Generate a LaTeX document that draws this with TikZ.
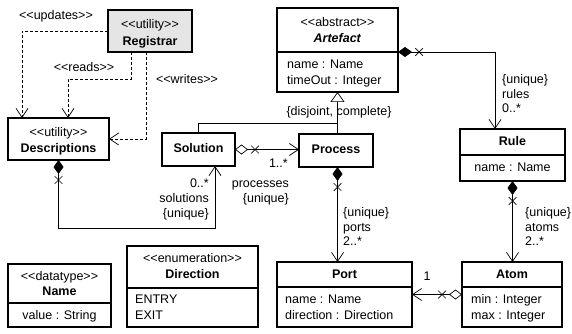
\documentclass[tikz,border=0pt]{standalone}
\usepackage{fontspec}
\setmainfont[Ligatures=TeXOff]{Liberation Sans}
\usetikzlibrary{arrows.meta,shapes.misc,calc,fit}
\begin{document}
\begin{tikzpicture}[x=1pt,y=-1pt,
  every node/.style={font=\fontsize{12.5}{15}\selectfont, inner sep=0pt, text height=9pt, text depth=2.5pt},
  cls/.style={draw, line width=1.6pt, inner sep=0pt, outer sep=0pt, text height=, text depth=},
  divl/.style={line width=1.1pt},
  conn/.style={line width=0.7pt},
  dep/.style={conn, dash pattern=on 3pt off 2pt},
  openarr/.style={-{Straight Barb[length=9pt,width=12pt,line width=0.7pt]}},
  compo/.style={{Diamond[length=14pt,width=10pt,line width=0.7pt]}-{Straight Barb[length=9pt,width=12pt,line width=0.7pt]}},
  aggr/.style={{Diamond[open,length=13pt,width=10pt,line width=0.7pt]}-{Straight Barb[length=9pt,width=12pt,line width=0.7pt]}},
  xm/.style={draw, cross out, line width=0.7pt, minimum size=7pt, inner sep=0pt, text height=, text depth=},
  lblw/.style={anchor=west},
  lble/.style={anchor=east}
]
\useasboundingbox (0,0) rectangle (572,334);

% ---------- class boxes ----------
\node[cls, fill=black!10, fit={(108,10) (192,52)}] (reg) {};
\node[cls, fit={(8,118) (109,160)}] (desc) {};
\node[cls, fit={(277,8) (398,92)}] (art) {};
\node[cls, fit={(162,133) (235,166)}] (sol) {};
\node[cls, fit={(299,134) (373,167)}] (proc) {};
\node[cls, fit={(460,129) (565,181)}] (rule) {};
\node[cls, fit={(277,262) (412,327)}] (port) {};
\node[cls, fit={(462,262) (562,327)}] (atom) {};
\node[cls, fit={(8,264) (111,327)}] (name) {};
\node[cls, fit={(127,246) (258,327)}] (dir) {};

% dividers
\draw[divl] (art.west |- 0,52) -- (art.east |- 0,52);
\draw[divl] (rule.west |- 0,155) -- (rule.east |- 0,155);
\draw[divl] (port.west |- 0,287) -- (port.east |- 0,287);
\draw[divl] (atom.west |- 0,287) -- (atom.east |- 0,287);
\draw[divl] (name.west |- 0,303) -- (name.east |- 0,303);
\draw[divl] (dir.west |- 0,288) -- (dir.east |- 0,288);

% ---------- box texts ----------
\node (regs) at (150,25) {<<utility>>};
\node (regn) at (150,42) {\textbf{Registrar}};
\node (descs) at (58.5,133) {<<utility>>};
\node (descn) at (58.5,149) {\textbf{Descriptions}};
\node (arts) at (337.5,23) {<<abstract>>};
\node (artn) at (337.5,39) {\textbf{\textit{Artefact}}};
\node[lblw] (arta1) at (287,65) {name : Name};
\node[lblw] (arta2) at (287,81) {timeOut : Integer};
\node (soln) at (sol.center) {\textbf{Solution}};
\node (procn) at (proc.center) {\textbf{Process}};
\node (rulen) at (512.5,142) {\textbf{Rule}};
\node (rulea) at (512.5,168) {name : Name};
\node (portn) at (344.5,275) {\textbf{Port}};
\node[lblw] (porta1) at (285,300) {name : Name};
\node[lblw] (porta2) at (285,316) {direction : Direction};
\node (atomn) at (512,275) {\textbf{Atom}};
\node[lblw] (atoma1) at (471,300) {min : Integer};
\node[lblw] (atoma2) at (471,316) {max : Integer};
\node (names) at (59.5,277) {<<datatype>>};
\node (namen) at (59.5,292) {\textbf{Name}};
\node (namea) at (59.5,316) {value : String};
\node (dirs) at (192.5,259) {<<enumeration>>};
\node (dirn) at (192.5,275) {\textbf{Direction}};
\node[lblw] (dira1) at (135,300) {ENTRY};
\node[lblw] (dira2) at (135,316) {EXIT};

% ---------- dependencies ----------
\coordinate (updt) at ($(desc.north west)+(14,0)$);
\draw[dep, openarr] (reg.west) -| (updt);
\node (lupd) at (56,16) {<<updates>>};

\coordinate (rdstart) at ($(reg.south west)+(23,0)$);
\coordinate (rdtarget) at ($(desc.north west)+(60,0)$);
\coordinate (rdmid) at ($(rdtarget)+(0,-39)$);
\draw[dep, openarr] (rdstart) |- (rdmid) -- (rdtarget);
\node (lrd) at (84,68) {<<reads>>};

\coordinate (wrstart) at ($(reg.south west)+(38,0)$);
\draw[dep, openarr] (wrstart) |- (desc.east);
\node (lwr) at (187,80) {<<writes>>};

% ---------- generalization ----------
\coordinate (g) at (art.south |- 0,123);
\draw[conn, -{Triangle[open,length=10pt,width=14pt,line width=0.7pt]}] (sol.north) |- (g) -- (art.south);
\draw[conn] (proc.north -| g) -- (g);
\node (lgen) at (339,112) {\{disjoint, complete\}};

% ---------- Solution -> Process ----------
\draw[conn, aggr] (sol.east) -- (sol.east -| proc.west);
\node[xm] (x1) at ($(sol.east)+(20,0)$) {};
\node[lble] (l1m) at (288,164) {1..*};
\node[lble] (l1r) at (289,184) {processes};
\node[lble] (l1u) at (289,199) {\{unique\}};

% ---------- Descriptions -> Solution ----------
\coordinate (sb) at ($(desc.south)+(0,68)$);
\coordinate (solb) at ($(sol.south)+(16.5,0)$);
\draw[conn, compo] (desc.south) -- (sb) -| (solb);
\node[xm] (x2) at ($(desc.south)+(0,20)$) {};
\node[lble] (l2m) at (209,184) {0..*};
\node[lble] (l2r) at (209,199) {solutions};
\node[lble] (l2u) at (209,214) {\{unique\}};

% ---------- Process -> Port ----------
\draw[conn, compo] (proc.south -| g) -- (g |- port.north);
\node[xm] (x3) at ($(proc.south -| g)+(0,20)$) {};
\node[lblw] (l3u) at (343,213) {\{unique\}};
\node[lblw] (l3r) at (343,228) {ports};
\node[lblw] (l3m) at (343,242) {2..*};

% ---------- Artefact -> Rule ----------
\coordinate (ae) at (art.east |- 0,52);
\coordinate (rt) at ($(rule.north)+(-17.5,0)$);
\draw[conn, compo] (ae) -| (rt);
\node[xm] (x4) at ($(ae)+(21,0)$) {};
\node[lblw] (l4u) at (502,80) {\{unique\}};
\node[lblw] (l4r) at (502,95) {rules};
\node[lblw] (l4m) at (502,109) {0..*};

% ---------- Rule -> Atom ----------
\draw[conn, compo] (rule.south) -- (rule.south |- atom.north);
\node[xm] (x5) at ($(rule.south)+(0,20)$) {};
\node[lblw] (l5u) at (525,213) {\{unique\}};
\node[lblw] (l5r) at (525,228) {atoms};
\node[lblw] (l5m) at (525,242) {2..*};

% ---------- Atom -> Port ----------
\draw[conn, aggr] (atom.west) -- (atom.west -| port.east);
\node[xm] (x6) at ($(atom.west)+(-20,0)$) {};
\node (l6m) at (427,277) {1};
\end{tikzpicture}
\end{document}
